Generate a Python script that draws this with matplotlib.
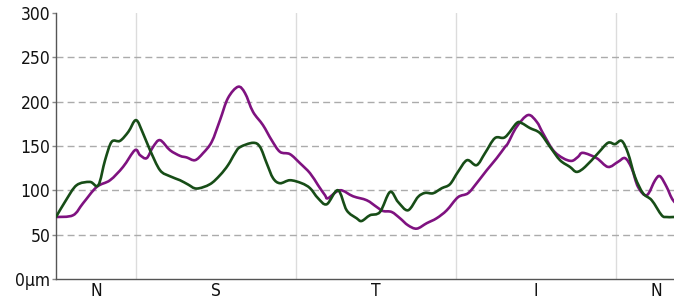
import matplotlib
matplotlib.use("Agg")
import matplotlib.pyplot as plt
from matplotlib.path import Path
from matplotlib.patches import PathPatch
import numpy as np

# angle positions (degrees, 0-360 TSNIT) and thickness values (µm)
green_deg = [0, 5.6, 11.6, 19.1, 23.8, 27.6, 31.3, 36.0, 40.7, 45.0, 48.9, 52.9, 58.5, 64.1,
             69.75, 74.25, 79.1, 86.6, 92.25, 96.75, 100.7, 103.5, 110.8, 114.75, 118.5, 122.1,
             126.0, 131.6, 138.2, 142.9, 147.4, 152.3, 158.6, 163.5, 169.1, 171.9, 176.6, 182.25,
             187.9, 192.4, 198.0, 203.6, 207.6, 212.1, 217.0, 221.6, 226.1, 231.2, 236.6, 241.3,
             246.9, 252.6, 259.1, 261.9, 266.6, 272.25, 277.9, 283.5, 289.1, 292.9, 297.6, 304.9,
             310.5, 314.4, 318.2, 321.75, 325.7, 330.2, 335.1, 340.7, 343.5, 347.1, 353.0, 360.0]
green_val = [69.9, 88.8, 105.8, 109.5, 105.8, 134.0, 154.7, 155.8, 166.0, 179.2, 164.5, 145.3,
             122.7, 115.9, 111.4, 106.6, 102.0, 106.9, 117.1, 128.4, 141.9, 148.7, 153.6, 149.0,
             130.6, 113.7, 108.0, 111.4, 108.0, 102.4, 91.1, 84.3, 100.1, 77.5, 68.5, 65.4, 71.9,
             75.6, 98.2, 86.9, 77.5, 92.5, 97.1, 96.7, 102.4, 106.9, 120.8, 134.0, 128.4, 141.9,
             158.9, 160.0, 175.8, 175.8, 170.2, 164.5, 149.0, 134.0, 126.4, 120.8, 126.4, 141.9,
             153.6, 152.1, 155.8, 141.9, 115.1, 96.7, 88.8, 71.9, 69.9, 69.9, 70.0, 70.0]

purple_deg = [0, 9.6, 15.2, 22.9, 30.4, 37.7, 44.4, 47.25, 51.0, 54.6, 58.5, 64.1, 69.75, 73.5,
              78.2, 82.7, 87.6, 92.25, 96.75, 102.4, 106.3, 110.8, 116.4, 121.3, 126.0, 131.6,
              137.25, 142.9, 147.4, 151.3, 153.0, 159.75, 167.1, 174.8, 180.4, 183.9, 188.8, 193.5,
              198.0, 202.9, 208.5, 214.1, 219.8, 226.1, 231.75, 236.6, 242.3, 247.9, 252.6, 254.25,
              259.1, 265.5, 270.4, 273.9, 279.6, 285.2, 290.1, 293.6, 296.4, 304.1, 310.5, 316.1,
              320.1, 323.8, 327.4, 332.3, 337.0, 339.75, 343.5, 347.1, 353.0, 360.0]
purple_val = [69.9, 71.9, 85.4, 103.8, 111.4, 126.4, 145.3, 139.7, 136.3, 149.0, 156.6, 145.3,
              138.9, 137.1, 134.0, 141.9, 154.7, 179.2, 204.1, 216.8, 209.7, 188.6, 173.6, 156.6,
              143.4, 140.8, 130.6, 119.3, 105.8, 94.5, 91.1, 100.1, 93.3, 88.8, 81.2, 76.7, 75.6,
              68.5, 60.6, 56.8, 62.9, 68.5, 77.5, 92.2, 96.7, 108.0, 122.7, 136.3, 149.0, 153.2,
              171.6, 184.9, 177.3, 164.5, 145.3, 136.3, 133.2, 137.7, 142.3, 136.3, 126.4, 132.1,
              136.3, 125.0, 103.8, 94.5, 111.4, 115.9, 103.8, 88.8, 78.0, 70.0]

sector_bounds = [45, 135, 225, 315]
sector_centers = [22.5, 90, 180, 270, 337.5]
sector_labels = ["N", "S", "T", "I", "N"]
y_ticks = [0, 50, 100, 150, 200, 250, 300]
y_labels = ["0µm", "50", "100", "150", "200", "250", "300"]


def spline_path(xs, ys):
    """Smooth (spline-style) rendering path through the given data points."""
    x = np.asarray(xs, float)
    y = np.asarray(ys, float)
    verts = [(x[0], y[0])]
    codes = [Path.MOVETO]
    n = len(x)
    for i in range(n - 1):
        x0, y0 = (x[i - 1], y[i - 1]) if i > 0 else (x[i], y[i])
        x3, y3 = (x[i + 2], y[i + 2]) if i + 2 < n else (x[i + 1], y[i + 1])
        c1 = (x[i] + (x[i + 1] - x0) / 6.0, y[i] + (y[i + 1] - y0) / 6.0)
        c2 = (x[i + 1] - (x3 - x[i]) / 6.0, y[i + 1] - (y3 - y[i]) / 6.0)
        verts += [c1, c2, (x[i + 1], y[i + 1])]
        codes += [Path.CURVE4] * 3
    return Path(verts, codes)


fig = plt.figure(figsize=(6.74, 2.99), dpi=100)
ax = fig.add_axes([56 / 674, 20 / 299, 640 / 674, 266 / 299])

for b in sector_bounds:
    ax.axvline(b, color="#dcdcdc", lw=1.0, zorder=1)
for t in y_ticks[1:-1]:
    ax.axhline(t, color="#ababab", lw=1.0, ls=(0, (5, 3)), zorder=1)

for xs, ys, col, z in [(purple_deg, purple_val, "#7f1280", 3),
                       (green_deg, green_val, "#174d17", 4)]:
    ax.add_patch(PathPatch(spline_path(xs, ys), facecolor="none", edgecolor=col,
                           lw=1.9, zorder=z, capstyle="round", joinstyle="round"))

ax.set_xlim(0, 360)
ax.set_ylim(0, 300)
ax.set_yticks(y_ticks)
ax.set_yticklabels(y_labels)
ax.set_xticks(sector_centers)
ax.set_xticklabels(sector_labels)

for lbl in ax.get_yticklabels() + ax.get_xticklabels():
    lbl.set_fontfamily("DejaVu Sans")
    lbl.set_fontstretch("condensed")
    lbl.set_fontsize(12.5)
    lbl.set_color("#111111")

ax.tick_params(axis="y", length=3, width=1, color="#888888", pad=1)
ax.tick_params(axis="x", length=0, pad=2)
for s in ["top", "right"]:
    ax.spines[s].set_visible(False)
for s in ["left", "bottom"]:
    ax.spines[s].set_color("#555555")
    ax.spines[s].set_linewidth(1.0)

fig.savefig("out.png", dpi=100)
